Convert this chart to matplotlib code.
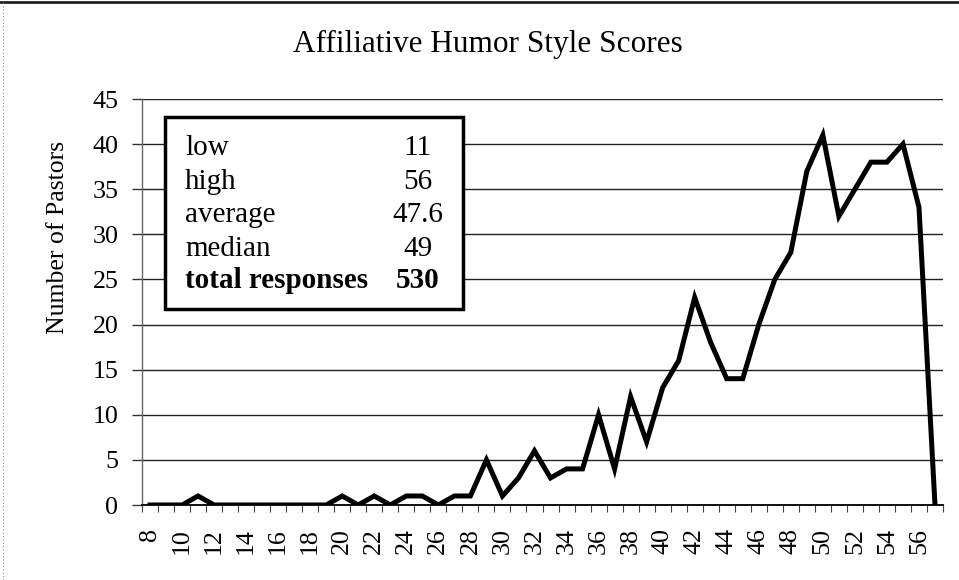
import matplotlib
matplotlib.use("Agg")
import matplotlib.pyplot as plt
from matplotlib.patches import Rectangle
from matplotlib.lines import Line2D

plt.rcParams['font.family'] = ['Liberation Serif', 'DejaVu Serif']

# ---- data ----
scores = list(range(8, 58))
counts = [0, 0, 0, 1, 0, 0, 0, 0, 0, 0, 0, 0,      # 8-19
          1, 0, 1, 0, 1, 1, 0, 1, 1, 5, 1, 3,      # 20-31
          6, 3, 4, 4, 10, 4, 12, 7, 13, 16, 23, 18, # 32-43
          14, 14, 20, 25, 28, 37, 41, 32, 35, 38, 38, 40, # 44-55
          33, 0]                                    # 56-57
tick_labels = [str(v) for v in range(8, 57, 2)]
stat_names = ["low", "high", "average", "median", "total responses"]
stat_values = ["11", "56", "47.6", "49", "530"]
title = "Affiliative Humor Style Scores"
ylabel = "Number of Pastors"

W, H = 959, 580
fig = plt.figure(figsize=(W / 100, H / 100), dpi=100)
ax = fig.add_axes([142 / W, 1 - 505 / H, (943 - 142) / W, (505 - 99) / H])

ax.plot(scores, counts, color='black', lw=3.6, solid_joinstyle='miter', zorder=3)

ax.set_xlim(7.5, 57.5)
ax.set_ylim(0, 45)
ax.set_yticks(range(0, 46, 5))
ax.tick_params(axis='y', labelsize=18.7, length=7, width=1, color='#333', pad=10)
ax.yaxis.grid(True, color='#222', lw=1.0)
ax.set_axisbelow(True)

ax.set_xticks(range(8, 57, 2))
ax.set_xticklabels(tick_labels, rotation=90)
ax.tick_params(axis='x', which='major', labelsize=18.7, length=0, pad=16.5)
ax.set_xticks([v + 0.5 for v in range(7, 58)], minor=True)
ax.tick_params(axis='x', which='minor', length=5, width=0.8, color='#444', direction='out')

for s in ['top', 'right']:
    ax.spines[s].set_visible(False)
ax.spines['bottom'].set_color('black')
ax.spines['bottom'].set_linewidth(1.3)
ax.spines['left'].set_color('#666')
ax.spines['left'].set_linewidth(1.0)
ax.spines['left'].set_linestyle((0, (1, 1)))

# stats box
x0, x1 = (165 - 142) / 801, (463 - 142) / 801
y0, y1 = (505 - 309) / 406, (505 - 117) / 406
ax.add_patch(Rectangle((x0, y0), x1 - x0, y1 - y0, transform=ax.transAxes,
                       facecolor='white', edgecolor='black', lw=2.5, zorder=5))
baselines = [155, 189, 222, 256, 288]
for i, (n, v) in enumerate(zip(stat_names, stat_values)):
    yb = (505 - baselines[i]) / 406
    w = 'bold' if i == len(stat_names) - 1 else 'normal'
    ax.text((185 - 142) / 801, yb, n, transform=ax.transAxes, fontsize=21,
            ha='left', va='baseline', fontweight=w, zorder=6)
    ax.text((418 - 142) / 801, yb, v, transform=ax.transAxes, fontsize=21,
            ha='center', va='baseline', fontweight=w, zorder=6)

fig.text(488 / W, 1 - 52 / H, title, fontsize=22.5, ha='center', va='baseline')
fig.text(58 / W, 1 - 237 / H, ylabel, fontsize=18.5, ha='center', va='center',
         rotation=90)

# scanned page frame
fig.add_artist(Line2D([0, 1], [1 - 2 / H, 1 - 2 / H], transform=fig.transFigure,
                      color='#222', lw=2))
fig.add_artist(Line2D([3 / W, 3 / W], [0, 1], transform=fig.transFigure,
                      color='#888', lw=0.8, linestyle=(0, (1, 2))))

fig.savefig('out.png', dpi=100)
